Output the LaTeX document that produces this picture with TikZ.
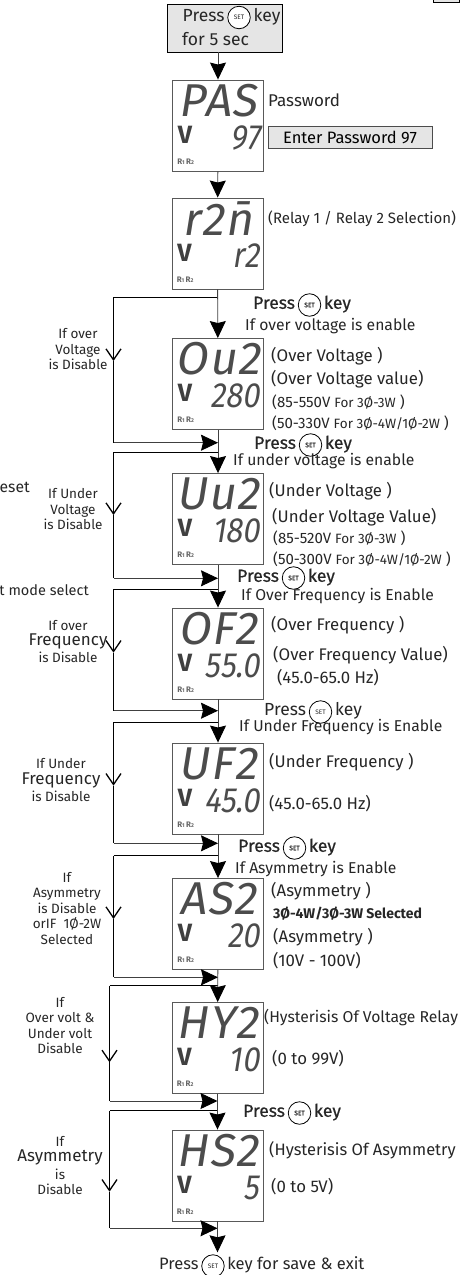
\documentclass[tikz,border=0pt]{standalone}
\usepackage{fontspec}
\usepackage{xcolor}
\usetikzlibrary{arrows.meta,positioning,calc}
\setmainfont{Fira Sans}
\newfontfamily\lcdfont[FakeSlant=0.16,LetterSpace=3]{Fira Sans}
\newfontfamily\lcdlowfont[FakeSlant=0.16,FakeStretch=0.88]{Fira Sans}
\newfontfamily\pressfont[FakeBold=0.6]{Fira Sans}
\newcommand{\fs}[1]{\fontsize{#1}{#1}\selectfont}
\newcommand{\setkey}{\tikz[baseline={([yshift=-3.8pt]k.center)}]\node[circle,draw=black,fill=white,line width=.8pt,inner sep=0pt,minimum size=22.5pt,font=\fs{6.5}] (k) {SET};}
\newcommand{\lcd}[5]{
 \node[lcdbox] (#1) at (#2,#3) {};
 \node[lcdtop] (#1-top) at ($(#1.north)+(0,21)$) {#4};
 \node[lcdlow,anchor=east] (#1-low) at ($(#1.north east)+(-4,58)$) {#5};
 \node[lcdv] (#1-v) at ($(#1.north west)+(13,55)$) {V};
 \node[lcdr,anchor=west] (#1-r) at ($(#1.north west)+(5,82)$) {R{\fs{5.5}1}\,R{\fs{5.5}2}};
}
\begin{document}
\begin{tikzpicture}[
 x=1pt,y=-1pt,font=\fs{15.7},
 startbox/.style={draw=black,fill=black!10,line width=.8pt,inner sep=0pt},
 lcdbox/.style={draw=black!65,fill=white,line width=.9pt,minimum size=91pt,inner sep=0pt},
 lcdtop/.style={font=\lcdfont\fs{46},text=black!70,inner sep=0pt},
 lcdlow/.style={font=\lcdlowfont\fs{35},text=black!70,inner sep=0pt},
 lcdv/.style={font=\bfseries\fs{25},text=black!75,inner sep=0pt},
 lcdr/.style={font=\bfseries\fs{8},text=black!60,inner sep=0pt},
 lbl/.style={anchor=west,inner sep=0pt,text=black!85},
 lblb/.style={lbl,font=\fs{16.8}},
 rng/.style={lbl,font=\fs{15}},
 press/.style={lbl,font=\pressfont\fs{17.5}},
 side/.style={align=center,inner sep=0pt,text=black!85,font=\fs{13.5}},
 flow/.style={draw=black!75,line width=.9pt,-{Stealth[length=17pt,width=16pt,inset=2pt,black]}},
 barb/.style={draw=black,line width=.9pt,-{Straight Barb[length=11pt,width=15pt,line width=1.3pt]}},
 wire/.style={draw=black,line width=.9pt}]
\useasboundingbox (0,0) rectangle (459,1275);
\node[startbox,minimum width=115pt,minimum height=48pt] (start) at (224.5,28) {};
\node[lbl,font=\fs{17.5}] (startA) at (182.5,17.5) {Press\,\setkey\,key};
\node[lbl,font=\fs{17.5}] (startB) at (182,39) {for 5 sec};
\node[startbox,minimum width=26pt,minimum height=8pt] (corner) at (446,-1.5) {};
\lcd{pas}{218}{125.5}{PAS}{97}
\lcd{rtwo}{217.5}{243.5}{r2n̄}{r2}
\lcd{ou}{218}{384}{Ou2}{280}
\lcd{uu}{218}{519}{Uu2}{180}
\lcd{of}{218}{653.5}{OF2}{55.0}
\lcd{uf}{218}{788.5}{UF2}{45.0}
\lcd{as}{218}{924}{AS2}{20}
\lcd{hy}{217.5}{1048}{HY2}{10}
\lcd{hs}{217.5}{1175.5}{HS2}{5}
\node[lbl,font=\fs{17}] (pasName) at (268,100) {Password};
\node[startbox,draw=black!70,minimum width=164pt,minimum height=22pt,font=\fs{16.5}] (pasHint) at (350,137) {Enter Password 97};
\node[lbl,font=\fs{15}] (rtwoName) at (268,219) {(Relay 1 / Relay 2 Selection)};
\node[press] (ouPress) at (253,305) {Press\,\setkey\,key};
\node[lbl] (ouIf) at (245,326) {If over voltage is enable};
\node[lblb] (ouName) at (271,356) {(Over Voltage )};
\node[lblb] (ouValue) at (271,379) {(Over Voltage value)};
\node[rng] (ouRa) at (272,402) {(85-550V {\fs{13.5}For 3Ø-3W} )};
\node[rng] (ouRb) at (272,423) {(50-330V {\fs{13.5}For 3Ø-4W/1Ø-2W} )};
\node[press] (uuPress) at (254,445) {Press\,\setkey\,key};
\node[lbl] (uuIf) at (233,461) {If under voltage is enable};
\node[lblb] (uuName) at (269,491) {(Under Voltage )};
\node[lblb] (uuValue) at (272,517) {(Under Voltage Value)};
\node[rng] (uuRa) at (273,538) {(85-520V {\fs{13.5}For 3Ø-3W} )};
\node[rng] (uuRb) at (273,559) {(50-300V {\fs{13.5}For 3Ø-4W/1Ø-2W} )};
\node[press] (ofPress) at (237,578) {Press\,\setkey\,key};
\node[lbl] (ofIf) at (241,596) {If Over Frequency is Enable};
\node[lblb] (ofName) at (271,625) {(Over Frequency )};
\node[lblb] (ofValue) at (273,655) {(Over Frequency Value)};
\node[lblb] (ofRange) at (277,678) {(45.0-65.0 Hz)};
\node[lbl,font=\fs{17.5}] (ufPress) at (264,712) {Press\,\setkey\,key};
\node[lbl] (ufIf) at (239,727) {If Under Frequency is Enable};
\node[lblb] (ufName) at (269,762) {(Under Frequency )};
\node[lblb] (ufRange) at (269,804) {(45.0-65.0 Hz)};
\node[press] (asPress) at (238,848) {Press\,\setkey\,key};
\node[lbl] (asIf) at (235,869) {If Asymmetry is Enable};
\node[lblb] (asName) at (271,891) {(Asymmetry )};
\node[lbl,font=\bfseries\fs{14}] (asSel) at (273,914) {3Ø-4W/3Ø-3W Selected};
\node[lblb] (asValue) at (273,937) {(Asymmetry )};
\node[lblb] (asRange) at (273,961) {(10V - 100V)};
\node[lbl,font=\fs{15.7}] (hyName) at (264,1018) {(Hysterisis Of Voltage Relay};
\node[lblb] (hyRange) at (272,1059) {(0 to 99V)};
\node[press] (hsPress) at (243,1113) {Press\,\setkey\,key};
\node[lbl,font=\fs{16.5}] (hsName) at (269,1150) {(Hysterisis Of Asymmetry};
\node[lblb] (hsRange) at (271,1187) {(0 to 5V)};
\node[lbl,font=\fs{16.5}] (saveExit) at (159,1266) {Press\,\setkey\,key for save \& exit};
\node[lbl,anchor=east] (cutReset) at (30,487) {eset};
\node[lbl,anchor=east,font=\fs{14.5}] (cutMode) at (89,590) {t mode select};
\node[side] (ouOff) at (78,349.5) {If over\\[2pt]Voltage\\[2pt]is Disable};
\node[side] (uuOff) at (73,509.5) {If Under\\[2pt]Voltage\\[2pt]is Disable};
\node[side] (ofOff) at (68,641.5) {If over\\[2pt]{\fs{17}Frequency}\\[2pt]is Disable};
\node[side] (ufOff) at (61,780) {If Under\\[2pt]{\fs{17}Frequency}\\[2pt]is Disable};
\node[side] (asOff) at (67,908.5) {If\\[2pt]Asymmetry\\[2pt]is Disable\\[2pt]orIF\ \ 1Ø-2W\\[2pt]Selected};
\node[side] (hyOff) at (60,1025.5) {If\\[2pt]Over volt \&\\[2pt]Under volt\\[2pt]Disable};
\node[side] (hsOff) at (60,1165.5) {If\\[2pt]{\fs{17}Asymmetry}\\[2pt]is\\[2pt]Disable};
\foreach \name/\xb/\ytop/\yv/\ybot in {ou/113.5/297/361/442.7,uu/113.5/452/515/578.3,of/113.5/589.3/652.7/710.7,uf/113.5/722.3/785.7/843.3,as/113.5/855.7/919/977.3,hy/109.5/985.7/1062.3/1101,hs/109.5/1110.7/1191.7/1228.3}{
 \coordinate (\name In) at (\name.north |- {(0,\ytop)});
 \coordinate (\name Top) at (\xb,\ytop);
 \coordinate (\name Mid) at (\xb,\yv);
 \coordinate (\name Low) at (\xb,\ybot);
 \coordinate (\name Out) at (\name.north |- {(0,\ybot)});
 \draw[wire] (\name In) -- (\name Top);
 \draw[barb] (\name Top) -- (\name Mid);
 \draw[wire] (\name Mid) -- (\name Low);
 \draw[flow] (\name Low) -- (\name Out);
}
\coordinate (exitTip) at (217.5,1252.3);
\draw[flow] (start.south -| pas) -- (pas);
\draw[flow] (pas) -- (rtwo);
\draw[flow] (rtwo) -- (ou);
\draw[flow] (ou) -- (uu);
\draw[flow] (uu) -- (of);
\draw[flow] (of) -- (uf);
\draw[flow] (uf) -- (as);
\draw[flow] (as) -- (hy);
\draw[flow] (hy) -- (hs);
\draw[flow] (hs) -- (exitTip);
\end{tikzpicture}
\end{document}
